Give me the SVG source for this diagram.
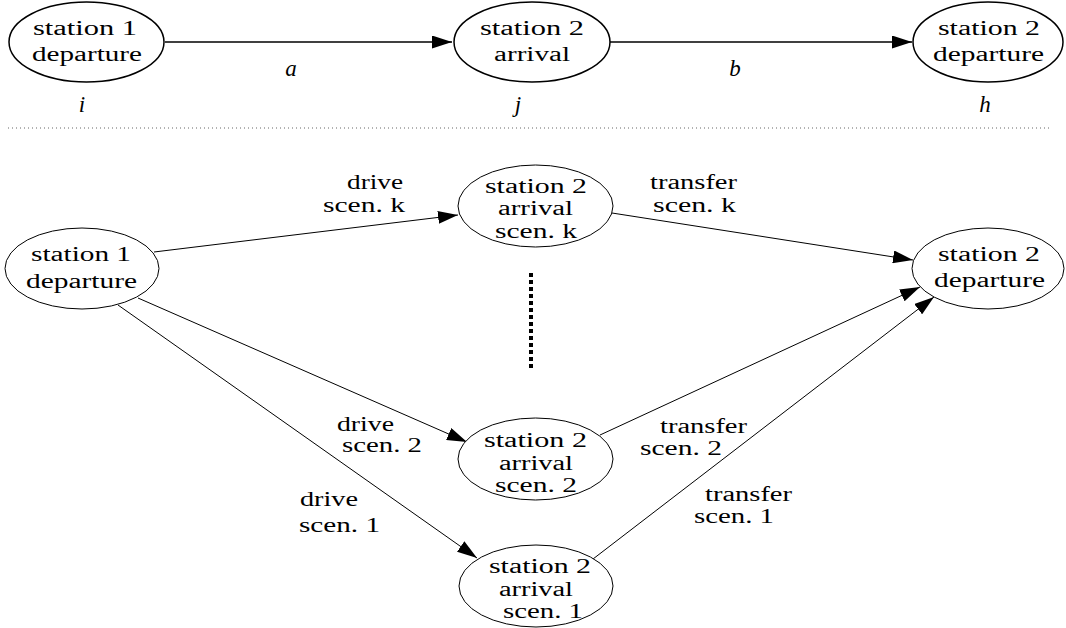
<svg xmlns="http://www.w3.org/2000/svg" width="1066" height="628" viewBox="0 0 1066 628">
<style>
  .t { font-family: 'Liberation Serif', 'DejaVu Serif', serif; font-size: 20px; fill: #000; }
  .m { font-family: 'Liberation Serif', 'DejaVu Serif', serif; font-size: 23px; font-style: italic; fill: #000; text-anchor: middle; }
  .nb { fill: #fff; stroke: #000; stroke-width: 1.5; }
  .n { fill: #fff; stroke: #000; stroke-width: 1; }
  .eb { fill: none; stroke: #000; stroke-width: 1.5; marker-end: url(#ah); }
  .e { fill: none; stroke: #000; stroke-width: 1; marker-end: url(#ah); }
</style>
<defs>
  <marker id="ah" markerUnits="userSpaceOnUse" markerWidth="20" markerHeight="13" refX="20" refY="6.5" orient="auto">
    <path d="M0,0 L20,6.5 L0,13 Z" fill="#000"/>
  </marker>
</defs>
<rect width="1066" height="628" fill="#fff"/>

<g id="connectors">
  <line class="eb" x1="165" y1="42" x2="452" y2="42"/>
  <line class="eb" x1="610" y1="42" x2="912" y2="42"/>
  <line class="e" x1="154" y1="252" x2="458" y2="215"/>
  <line class="e" x1="138" y1="298" x2="467" y2="442"/>
  <line class="e" x1="118" y1="305" x2="477" y2="558"/>
  <line class="e" x1="612" y1="213" x2="913" y2="260"/>
  <line class="e" x1="600" y1="435" x2="920" y2="287"/>
  <line class="e" x1="593" y1="559" x2="934" y2="297"/>
</g>

<g id="separator">
  <line x1="8" y1="128" x2="1050" y2="128" stroke="#666" stroke-width="1" stroke-dasharray="1 3"/>
  <line x1="531" y1="273" x2="531" y2="368" stroke="#000" stroke-width="4" stroke-dasharray="4 3"/>
</g>

<g id="edge-labels">
  <text class="m" x="291" y="76">a</text>
  <text class="m" x="735" y="76">b</text>
  <text class="m" x="82" y="112">i</text>
  <text class="m" x="518" y="112">j</text>
  <text class="m" x="985" y="112">h</text>
  <text class="t" x="347" y="189" textLength="56" lengthAdjust="spacingAndGlyphs">drive</text>
  <text class="t" x="323" y="212" textLength="82" lengthAdjust="spacingAndGlyphs">scen. k</text>
  <text class="t" x="650" y="189" textLength="87" lengthAdjust="spacingAndGlyphs">transfer</text>
  <text class="t" x="653" y="212" textLength="83" lengthAdjust="spacingAndGlyphs">scen. k</text>
  <text class="t" x="337" y="431" textLength="57" lengthAdjust="spacingAndGlyphs">drive</text>
  <text class="t" x="342" y="452" textLength="80" lengthAdjust="spacingAndGlyphs">scen. 2</text>
  <text class="t" x="660" y="433" textLength="87" lengthAdjust="spacingAndGlyphs">transfer</text>
  <text class="t" x="640" y="455" textLength="82" lengthAdjust="spacingAndGlyphs">scen. 2</text>
  <text class="t" x="300" y="506" textLength="58" lengthAdjust="spacingAndGlyphs">drive</text>
  <text class="t" x="299" y="532" textLength="81" lengthAdjust="spacingAndGlyphs">scen. 1</text>
  <text class="t" x="705" y="501" textLength="87" lengthAdjust="spacingAndGlyphs">transfer</text>
  <text class="t" x="694" y="523" textLength="80" lengthAdjust="spacingAndGlyphs">scen. 1</text>
</g>

<g id="top-station1-departure">
  <ellipse class="nb" cx="86.5" cy="42" rx="77.5" ry="40"/>
  <text class="t" x="33" y="35" textLength="104" lengthAdjust="spacingAndGlyphs">station 1</text>
  <text class="t" x="32" y="61" textLength="110" lengthAdjust="spacingAndGlyphs">departure</text>
</g>
<g id="top-station2-arrival">
  <ellipse class="nb" cx="532" cy="42" rx="78" ry="40"/>
  <text class="t" x="480" y="35" textLength="104" lengthAdjust="spacingAndGlyphs">station 2</text>
  <text class="t" x="494" y="61" textLength="76" lengthAdjust="spacingAndGlyphs">arrival</text>
</g>
<g id="top-station2-departure">
  <ellipse class="nb" cx="988" cy="42" rx="75" ry="40"/>
  <text class="t" x="938" y="35" textLength="102" lengthAdjust="spacingAndGlyphs">station 2</text>
  <text class="t" x="933" y="61" textLength="111" lengthAdjust="spacingAndGlyphs">departure</text>
</g>

<g id="station1-departure">
  <ellipse class="n" cx="82" cy="268.5" rx="77" ry="40.5"/>
  <text class="t" x="31" y="261" textLength="100" lengthAdjust="spacingAndGlyphs">station 1</text>
  <text class="t" x="26" y="288" textLength="111" lengthAdjust="spacingAndGlyphs">departure</text>
</g>
<g id="arrival-k">
  <ellipse class="n" cx="535.5" cy="206" rx="77.5" ry="41"/>
  <text class="t" x="485" y="193" textLength="102" lengthAdjust="spacingAndGlyphs">station 2</text>
  <text class="t" x="498" y="215" textLength="75" lengthAdjust="spacingAndGlyphs">arrival</text>
  <text class="t" x="495" y="238" textLength="82" lengthAdjust="spacingAndGlyphs">scen. k</text>
</g>
<g id="arrival-2">
  <ellipse class="n" cx="535.5" cy="459" rx="77.5" ry="41"/>
  <text class="t" x="484" y="447" textLength="103" lengthAdjust="spacingAndGlyphs">station 2</text>
  <text class="t" x="499" y="470" textLength="74" lengthAdjust="spacingAndGlyphs">arrival</text>
  <text class="t" x="495" y="492" textLength="82" lengthAdjust="spacingAndGlyphs">scen. 2</text>
</g>
<g id="arrival-1">
  <ellipse class="n" cx="536" cy="586" rx="77" ry="41"/>
  <text class="t" x="489" y="573" textLength="102" lengthAdjust="spacingAndGlyphs">station 2</text>
  <text class="t" x="499" y="596" textLength="74" lengthAdjust="spacingAndGlyphs">arrival</text>
  <text class="t" x="503" y="618" textLength="80" lengthAdjust="spacingAndGlyphs">scen. 1</text>
</g>
<g id="station2-departure">
  <ellipse class="n" cx="988" cy="268.5" rx="76" ry="40.5"/>
  <text class="t" x="938" y="261" textLength="102" lengthAdjust="spacingAndGlyphs">station 2</text>
  <text class="t" x="934" y="287" textLength="111" lengthAdjust="spacingAndGlyphs">departure</text>
</g>
</svg>
